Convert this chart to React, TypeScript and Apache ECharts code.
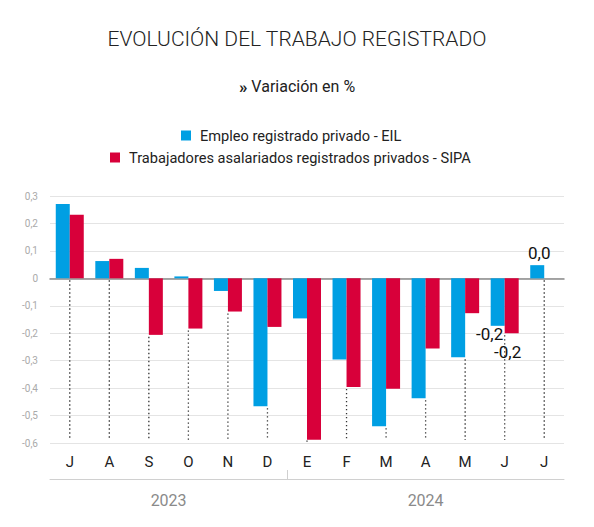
import React, { useEffect, useRef } from "react";
import * as echarts from "echarts";

const months = ["J", "A", "S", "O", "N", "D", "E", "F", "M", "A", "M", "J", "J"];
const eilValues = [0.271, 0.063, 0.038, 0.007, -0.046, -0.466, -0.146, -0.296, -0.539, -0.437, -0.288, -0.173, 0.048];
const sipaValues: (number | null)[] = [0.232, 0.071, -0.206, -0.183, -0.121, -0.177, -0.588, -0.396, -0.402, -0.256, -0.127, -0.2, null];
const yearLabels = ["2023", "2024"];
const yearCenters = [3, 9.5];
const yearSplit = [6];
const eilLabelled = [11, 12];
const sipaLabelled = [11];

const BLUE = "#009FE3";
const RED = "#D8003A";
const FONT = "Roboto, 'Noto Sans', sans-serif";

const fmt = (v: number) => (Math.abs(v) < 1e-9 ? "0" : v.toFixed(1).replace(".", ","));

export default function App() {
  const ref = useRef<HTMLDivElement>(null);
  useEffect(() => {
    document.body.style.margin = "0";
    const chart = echarts.init(ref.current!, null, { renderer: "svg" });

    const labelStyle = { fontSize: 17, fontWeight: 400, color: "#111", fontFamily: FONT };
    const eilData = eilValues.map((v, i) => {
      if (!eilLabelled.includes(i)) return v;
      const isLast = i === eilValues.length - 1;
      return {
        value: v,
        label: {
          show: true,
          position: isLast ? "top" : "bottom",
          distance: isLast ? 4 : 0,
          offset: isLast ? [2, 0] : [-8, 0],
          formatter: (p: any) => fmt(p.value),
          ...labelStyle,
        },
      };
    });
    const sipaData = sipaValues.map((v, i) => {
      if (!sipaLabelled.includes(i) || v === null) return v;
      return {
        value: v,
        label: {
          show: true,
          position: "bottom",
          distance: 10,
          offset: [-4, 0],
          formatter: (p: any) => fmt(p.value),
          ...labelStyle,
        },
      };
    });
    const dotData = months.map((_, i) => [i, Math.min(0, eilValues[i], sipaValues[i] ?? 0)]);

    chart.setOption({
      animation: false,
      textStyle: { fontFamily: FONT },
      title: [
        {
          text: "EVOLUCIÓN DEL TRABAJO REGISTRADO",
          left: "center",
          top: 23,
          textStyle: { fontSize: 21, fontWeight: 300, color: "#222", fontFamily: FONT },
        },
        {
          text: "{b|»} Variación en %",
          left: "center",
          top: 73,
          textStyle: {
            fontSize: 16,
            fontWeight: 400,
            color: "#222",
            fontFamily: FONT,
            rich: { b: { fontSize: 17, fontWeight: 700, color: "#222", fontFamily: FONT } },
          },
        },
      ],
      legend: [
        {
          data: ["Empleo registrado privado - EIL"],
          left: 176,
          top: 123,
          icon: "path://M0,0L10,0L10,10L0,10Z",
          itemWidth: 18,
          itemHeight: 10,
          textStyle: { fontSize: 14.6, color: "#222", fontFamily: FONT },
        },
        {
          data: ["Trabajadores asalariados registrados privados - SIPA"],
          left: 105,
          top: 145,
          icon: "path://M0,0L10,0L10,10L0,10Z",
          itemWidth: 18,
          itemHeight: 10,
          textStyle: { fontSize: 14.6, color: "#222", fontFamily: FONT },
        },
      ],
      grid: { left: 50, right: 30, top: 196, bottom: 84 },
      xAxis: [
        {
          type: "category",
          data: months,
          axisLine: { show: true, onZero: true, lineStyle: { color: "#8a8a8a", width: 1.5 } },
          axisTick: { show: false },
          axisLabel: { show: false },
          splitLine: { show: false },
        },
        {
          type: "category",
          data: months,
          position: "bottom",
          axisLine: { show: false, onZero: false },
          axisTick: { show: false },
          axisLabel: { show: true, fontSize: 15, color: "#222", margin: 11, fontFamily: FONT },
          splitLine: { show: false },
        },
        {
          type: "value",
          min: 0,
          max: months.length,
          position: "bottom",
          offset: 36,
          axisLine: { show: true, onZero: false, lineStyle: { color: "#d0d0d0", width: 1 } },
          axisTick: {
            show: true,
            inside: true,
            length: 9,
            customValues: yearSplit,
            lineStyle: { color: "#d0d0d0" },
          },
          axisLabel: {
            show: true,
            customValues: yearCenters,
            formatter: (v: number) => yearLabels[yearCenters.indexOf(v)] ?? "",
            fontSize: 16,
            color: "#8a8a8a",
            margin: 13,
            fontFamily: FONT,
          },
          splitLine: { show: false },
        },
      ],
      yAxis: {
        type: "value",
        min: -0.6,
        max: 0.3,
        interval: 0.1,
        axisLine: { show: false },
        axisTick: { show: false },
        axisLabel: { formatter: fmt, fontSize: 10, color: "#aaa", margin: 12, fontFamily: FONT },
        splitLine: { show: true, lineStyle: { color: "#e4e4e4", width: 1 } },
      },
      series: [
        {
          type: "custom",
          xAxisIndex: 0,
          z: 1,
          data: dotData,
          renderItem: (params: any, api: any) => {
            const i = api.value(0);
            const top = api.coord([i, api.value(1)]);
            const bot = api.coord([i, -0.6]);
            return {
              type: "line",
              shape: { x1: top[0], y1: top[1] + 2, x2: bot[0], y2: bot[1] - 3 },
              style: { stroke: "#333", lineWidth: 1.3, lineDash: [1.3, 2.7] },
            };
          },
        },
        {
          name: "Empleo registrado privado - EIL",
          type: "bar",
          xAxisIndex: 0,
          data: eilData,
          barWidth: 14,
          barGap: "0%",
          itemStyle: { color: BLUE },
          z: 2,
        },
        {
          name: "Trabajadores asalariados registrados privados - SIPA",
          type: "bar",
          xAxisIndex: 0,
          data: sipaData,
          barWidth: 14,
          barGap: "0%",
          itemStyle: { color: RED },
          z: 2,
        },
      ],
    });
    return () => chart.dispose();
  }, []);
  return <div ref={ref} style={{ width: 594, height: 527 }} />;
}
